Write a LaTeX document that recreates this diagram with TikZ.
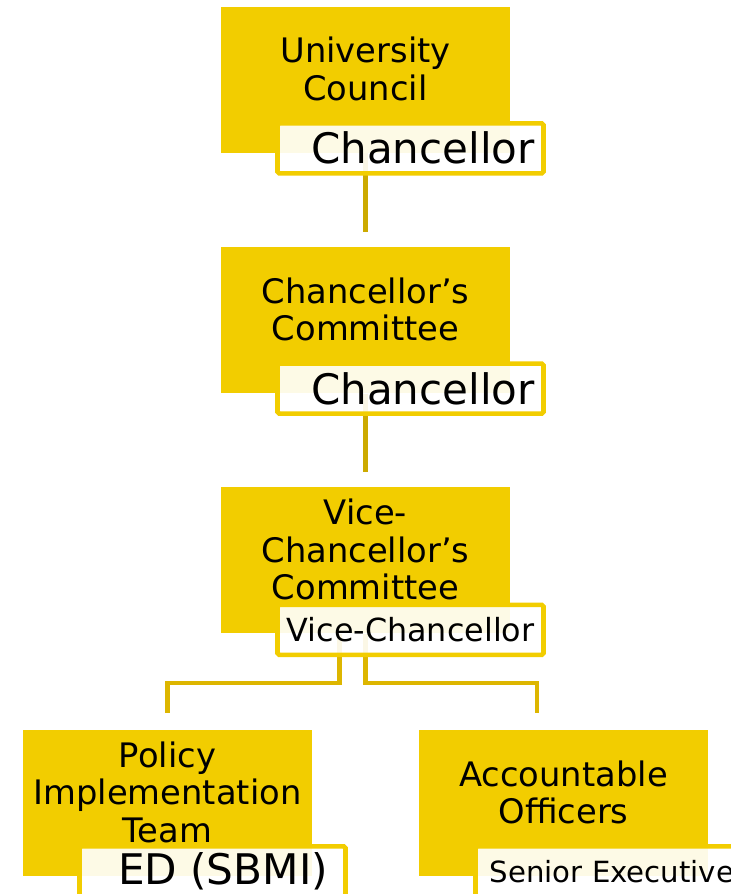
\documentclass[tikz,border=0pt]{standalone}
\usepackage{fontspec}
\setmainfont{DejaVu Sans}
\usepackage{xcolor}
\usepackage{tikz}
\definecolor{boxgold}{RGB}{242,205,0}
\definecolor{linkgold}{RGB}{204,170,0}
\definecolor{sublinkgold}{RGB}{221,182,0}
\tikzset{%
	unit/.style    = {fill=boxgold, minimum width=5.78cm, minimum height=2.92cm, inner sep=0pt, text depth=0.44cm, align=center, font=\fontsize{19.2pt}{21.4pt}\selectfont},
	tag/.style     = {draw=boxgold, line width=2.6pt, fill=white, fill opacity=0.9, text opacity=1, minimum width=5.32cm, minimum height=1cm, inner sep=0pt, rounded corners=1pt, execute at begin node={\hspace*{#1}}},
	link/.style    = {draw=linkgold, line width=2.6pt},
	sublink/.style = {draw=sublinkgold, line width=2.6pt},
}

\begin{document}
\begin{tikzpicture}
		\useasboundingbox (0,0) rectangle (14.6,17.88);
		
		\node[unit] (uc) at (7.31,16.28) {University\\Council};
		\node[unit] (cc) at (7.31,11.475) {Chancellor’s\\Committee};
		\node[unit] (vc) at (7.31,6.67) {Vice-\\Chancellor’s\\Committee};
		\node[unit] (pit) at (3.35,1.82) {Policy\\Implementation\\Team};
		\node[unit] (ao) at (11.27,1.82) {Accountable\\Officers};
		
		\draw[link] (uc.south) -- ([yshift=0.3cm]cc.north);
		\draw[link] (cc.south) -- ([yshift=0.3cm]vc.north);
		\draw[sublink] ([xshift=-0.52cm]vc.south) -- ++(0,-0.98) -| ([yshift=0.33cm]pit.north);
		\draw[sublink] (vc.south) -- ++(0,-0.98) -| ([xshift=-0.53cm,yshift=0.33cm]ao.north);
		
		\node[tag=0.5cm, font=\fontsize{23.9pt}{26pt}\selectfont] (uctag) at ([xshift=0.9cm,yshift=0.1cm]uc.south) {Chancellor};
		\node[tag=0.5cm, font=\fontsize{23.9pt}{26pt}\selectfont] (cctag) at ([xshift=0.9cm,yshift=0.1cm]cc.south) {Chancellor};
		\node[tag=0pt, font=\fontsize{18.1pt}{20pt}\selectfont] (vctag) at ([xshift=0.9cm,yshift=0.08cm]vc.south) {Vice-Chancellor};
		\node[tag=0.42cm, font=\fontsize{24pt}{26pt}\selectfont] (pittag) at ([xshift=0.9cm,yshift=0.1cm]pit.south) {ED (SBMI)};
		\node[tag=0.14cm, font=\fontsize{16.6pt}{18pt}\selectfont] (aotag) at ([xshift=0.9cm,yshift=0.1cm]ao.south) {Senior Executive};
		\end{tikzpicture}
\end{document}
